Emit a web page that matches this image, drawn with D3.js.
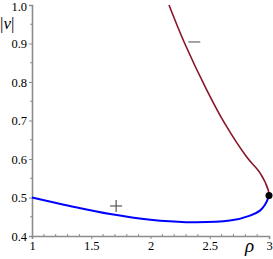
<!DOCTYPE html>
<html>
<head>
<meta charset="utf-8">
<script src="https://cdn.jsdelivr.net/npm/d3@7"></script>
<style>
  body { margin: 0; background: #fff; }
  svg { display: block; }
  svg text { font-family: "Liberation Serif", "DejaVu Serif", serif !important; }
</style>
</head>
<body>
<script>
//chart data
var xTicks = [1, 1.5, 2, 2.5, 3];
var yTicks = [0.4, 0.5, 0.6, 0.7, 0.8, 0.9, 1.0];
var plusRho = [1.0, 1.32, 1.66, 2.0, 2.3, 2.67, 2.84, 2.924, 2.966, 2.994, 3.0];
var plusV   = [0.5, 0.478, 0.457, 0.442, 0.436, 0.44, 0.453, 0.466, 0.481, 0.499, 0.505];
var minusRho = [2.156, 2.289, 2.472, 2.629, 2.812, 2.924, 2.994, 3.0];
var minusV   = [1.0, 0.9, 0.781, 0.691, 0.605, 0.564, 0.519, 0.505];
var foldPoint = [3.0, 0.505];

var width = 273, height = 259;

var svg = d3.select("body").append("svg")
  .attr("width", width)
  .attr("height", height);

var x = d3.scaleLinear().domain([1, 3]).range([32, 269]);
var y = d3.scaleLinear().domain([0.4, 1.0]).range([236, 5]);

var axisColor = "#8c8c8c";

//minor ticks
svg.append("g")
  .selectAll("line")
  .data(d3.range(1.1, 3, 0.1).filter(function(d){ return Math.abs(d * 2 - Math.round(d * 2)) > 0.01; }))
  .enter().append("line")
  .attr("x1", function(d){ return x(d); })
  .attr("x2", function(d){ return x(d); })
  .attr("y1", y(0.4))
  .attr("y2", y(0.4) - 2)
  .attr("stroke", axisColor);

svg.append("g")
  .selectAll("line")
  .data(d3.range(0.45, 1.0, 0.1))
  .enter().append("line")
  .attr("x1", x(1) - 2)
  .attr("x2", x(1))
  .attr("y1", function(d){ return y(d); })
  .attr("y2", function(d){ return y(d); })
  .attr("stroke", axisColor);

//axes
var xAxis = svg.append("g")
  .attr("transform", "translate(0," + y(0.4) + ")")
  .call(d3.axisBottom(x).tickValues(xTicks).tickSize(3).tickPadding(3)
    .tickFormat(function(d){ return d3.format("")(d); }));

var yAxis = svg.append("g")
  .attr("transform", "translate(" + x(1) + ",0)")
  .call(d3.axisLeft(y).tickValues(yTicks).tickSize(3).tickPadding(2)
    .tickFormat(d3.format(".1f")));

[xAxis, yAxis].forEach(function(a){
  a.attr("font-size", 12.5);
  a.select(".domain").attr("stroke", axisColor).attr("stroke-width", 1.6);
  a.selectAll(".tick line").attr("stroke", axisColor);
  a.selectAll(".tick text").attr("fill", "#000");
});
xAxis.selectAll(".tick text").attr("dy", "0.6em");
yAxis.select(".tick:last-of-type text").attr("dy", "0.45em");

//curves
var line = d3.line()
  .x(function(d){ return x(d[0]); })
  .y(function(d){ return y(d[1]); })
  .curve(d3.curveCatmullRom.alpha(0.5));

svg.append("path")
  .datum(d3.zip(plusRho, plusV))
  .attr("d", line)
  .attr("fill", "none")
  .attr("stroke", "#0000ff")
  .attr("stroke-width", 2);

svg.append("path")
  .datum(d3.zip(minusRho, minusV))
  .attr("d", line)
  .attr("fill", "none")
  .attr("stroke", "#8a1628")
  .attr("stroke-width", 1.6);

svg.append("circle")
  .attr("cx", x(foldPoint[0]))
  .attr("cy", y(foldPoint[1]))
  .attr("r", 3.5)
  .attr("fill", "#000");

//branch labels
svg.append("line")
  .attr("x1", x(1.71) - 6).attr("x2", x(1.71) + 6)
  .attr("y1", y(0.478)).attr("y2", y(0.478))
  .attr("stroke", "#555").attr("stroke-width", 1.2);
svg.append("line")
  .attr("x1", x(1.71)).attr("x2", x(1.71))
  .attr("y1", y(0.478) - 6).attr("y2", y(0.478) + 6)
  .attr("stroke", "#555").attr("stroke-width", 1.2);

svg.append("line")
  .attr("x1", x(2.32)).attr("x2", x(2.42))
  .attr("y1", y(0.904)).attr("y2", y(0.904))
  .attr("stroke", "#666").attr("stroke-width", 1.2);

//axis titles
svg.append("text")
  .attr("x", 245)
  .attr("y", 252)
  .attr("font-style", "italic")
  .attr("font-size", 19)
  .text("\u03c1");

var vt = svg.append("text")
  .attr("x", 0)
  .attr("y", 29)
  .attr("font-size", 17);
vt.append("tspan").text("|");
vt.append("tspan").attr("font-style", "italic").text("v");
vt.append("tspan").text("|");
</script>
</body>
</html>
